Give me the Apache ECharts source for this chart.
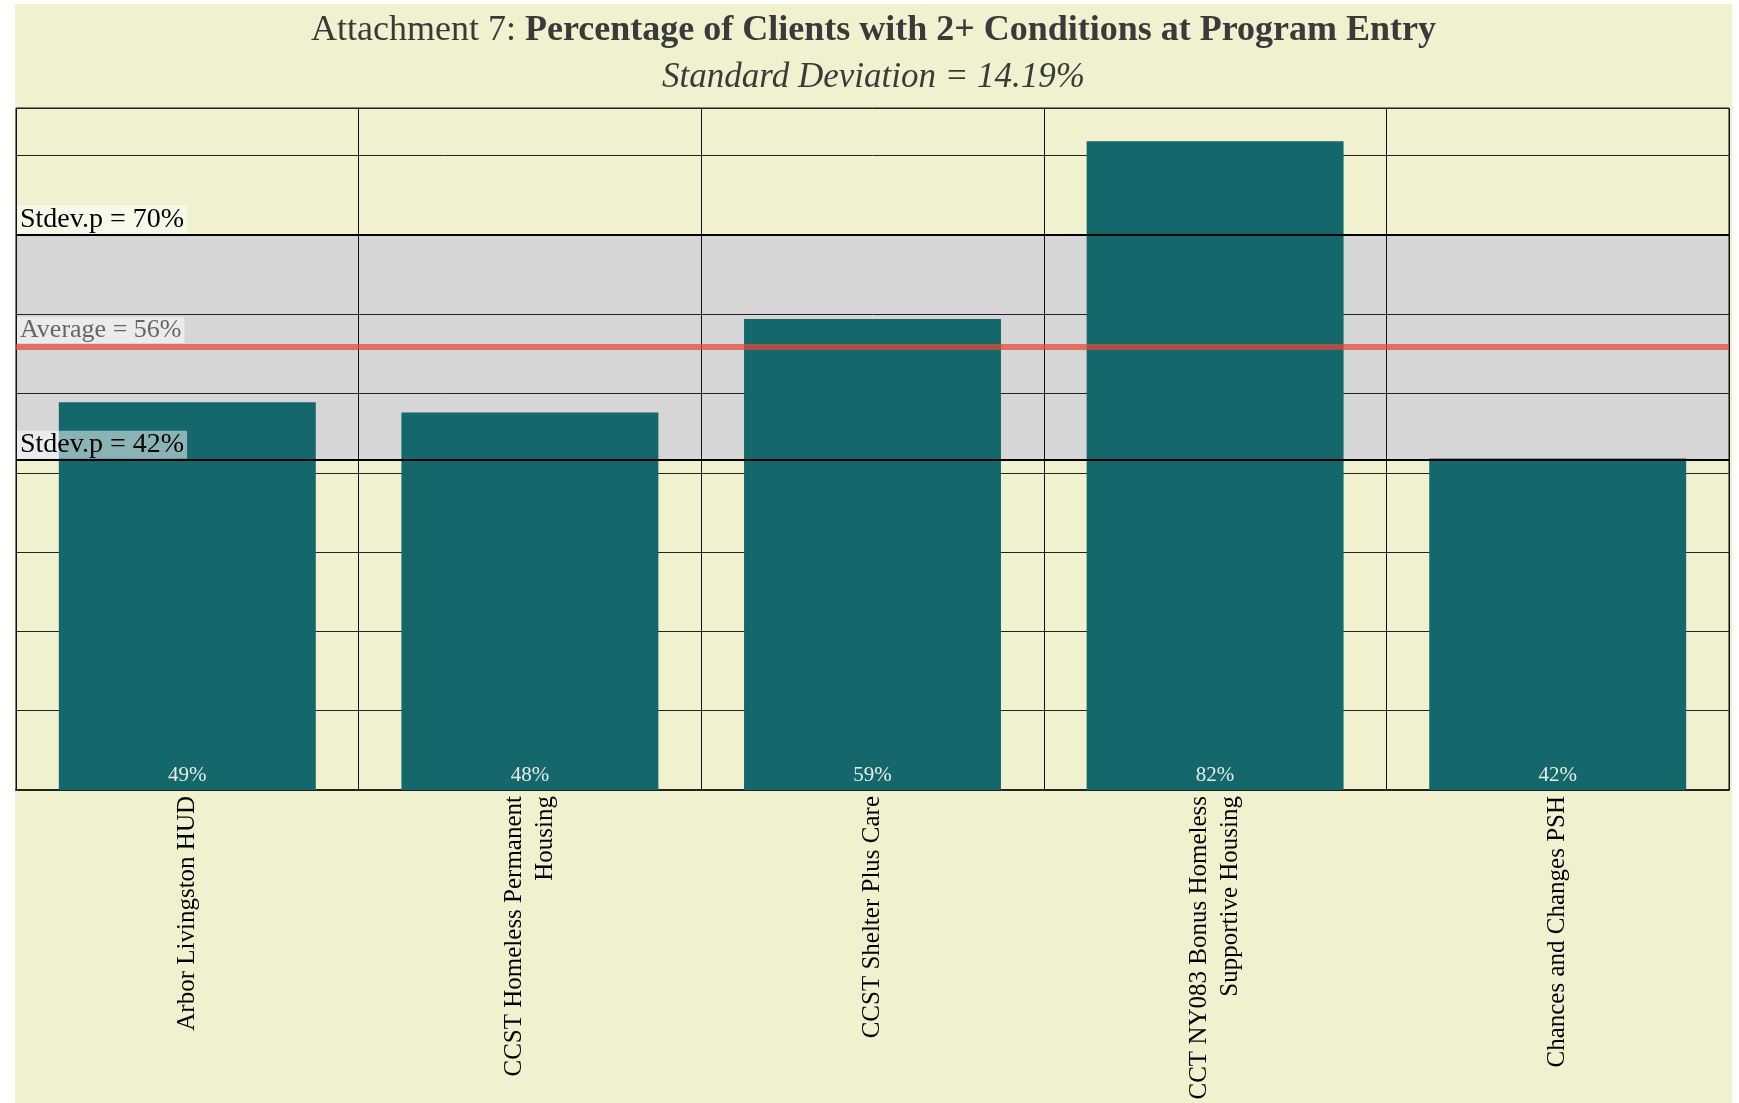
<!DOCTYPE html>
<html>
<head>
<meta charset="utf-8">
<script src="https://cdn.jsdelivr.net/npm/echarts@6/dist/echarts.min.js"></script>
<style>
  html, body { margin: 0; padding: 0; background: #ffffff; }
  #chart { position: absolute; left: 15px; top: 4px; width: 1717px; height: 1099px; }
</style>
</head>
<body>
<div id="chart"></div>
<script>
const categories = [
  'Arbor Livingston HUD',
  'CCST Homeless Permanent\nHousing',
  'CCST Shelter Plus Care',
  'CCT NY083 Bonus Homeless\nSupportive Housing',
  'Chances and Changes PSH'
];
const values = [48.9, 47.6, 59.4, 81.8, 41.8];
const average = 55.85;
const stdevUpper = 70.04;
const stdevLower = 41.66;
const titleMain = 'Percentage of Clients with 2+ Conditions at Program Entry';
const titlePrefix = 'Attachment 7: ';
const subtitle = 'Standard Deviation = 14.19%';
const avgLabel = 'Average = 56%';
const upperLabel = 'Stdev.p = 70%';
const lowerLabel = 'Stdev.p = 42%';

const FONT = '"Liberation Serif", "DejaVu Serif", serif';

const chart = echarts.init(document.getElementById('chart'));
chart.setOption({
  backgroundColor: '#f0f2cf',
  animation: false,
  title: [
    {
      text: '{n|' + titlePrefix + '}{b|' + titleMain + '}',
      left: 'center',
      top: 4,
      textStyle: {
        rich: {
          n: { fontFamily: FONT, fontSize: 36, color: '#3a3a3a', fontWeight: 'normal' },
          b: { fontFamily: FONT, fontSize: 36, color: '#3a3a3a', fontWeight: 'bold' }
        }
      }
    },
    {
      text: subtitle,
      left: 'center',
      top: 51,
      textStyle: { fontFamily: FONT, fontSize: 35, color: '#3a3a3a', fontStyle: 'italic', fontWeight: 'normal' }
    }
  ],
  grid: {
    left: 1, right: 3, top: 104, bottom: 313,
    show: true, borderColor: '#111', borderWidth: 1, backgroundColor: 'transparent'
  },
  xAxis: {
    type: 'category',
    data: categories,
    axisLine: { show: true, lineStyle: { color: '#222', width: 2 } },
    axisTick: { show: false },
    splitLine: { show: true, lineStyle: { color: '#111', width: 1 } },
    axisLabel: {
      rotate: 90, interval: 0, margin: 6,
      fontFamily: FONT, fontSize: 25, lineHeight: 31, color: '#000'
    }
  },
  yAxis: {
    type: 'value',
    min: 0, max: 86, interval: 10,
    axisLabel: { show: false },
    axisLine: { show: false },
    axisTick: { show: false },
    splitLine: { show: true, lineStyle: { color: '#222', width: 1 } }
  },
  series: [
    {
      type: 'line',
      data: values.map(() => null),
      silent: true,
      symbol: 'none',
      markArea: {
        silent: true,
        z: -1,
        itemStyle: { color: '#d6d6d6' },
        data: [[{ yAxis: stdevLower }, { yAxis: stdevUpper }]]
      }
    },
    {
      type: 'bar',
      data: values,
      barCategoryGap: '25%',
      itemStyle: { color: '#14676b' },
      label: {
        show: true,
        position: 'insideBottom',
        distance: 4,
        formatter: p => Math.round(p.value) + '%',
        fontFamily: FONT,
        fontSize: 21,
        color: '#e6eee8'
      },
      markLine: {
        silent: true,
        symbol: 'none',
        animation: false,
        data: [
          {
            yAxis: stdevUpper,
            lineStyle: { color: '#000', width: 2, type: 'solid' },
            label: {
              formatter: upperLabel, position: 'insideStartTop', distance: [1, 1],
              fontFamily: FONT, fontSize: 28, lineHeight: 28, color: '#000',
              backgroundColor: 'rgba(255,255,255,0.55)', padding: [0, 3]
            }
          },
          {
            yAxis: stdevLower,
            lineStyle: { color: '#000', width: 2, type: 'solid' },
            label: {
              formatter: lowerLabel, position: 'insideStartTop', distance: [1, 1],
              fontFamily: FONT, fontSize: 28, lineHeight: 28, color: '#000',
              backgroundColor: 'rgba(255,255,255,0.5)', padding: [0, 3]
            }
          },
          {
            yAxis: average,
            lineStyle: { color: 'rgba(228,72,56,0.72)', width: 6, type: 'solid' },
            label: {
              formatter: avgLabel, position: 'insideStartTop', distance: [1, 4],
              fontFamily: FONT, fontSize: 26, lineHeight: 26, color: '#666',
              backgroundColor: 'rgba(255,255,255,0.5)', padding: [0, 3]
            }
          }
        ]
      }
    }
  ]
});
</script>
</body>
</html>
